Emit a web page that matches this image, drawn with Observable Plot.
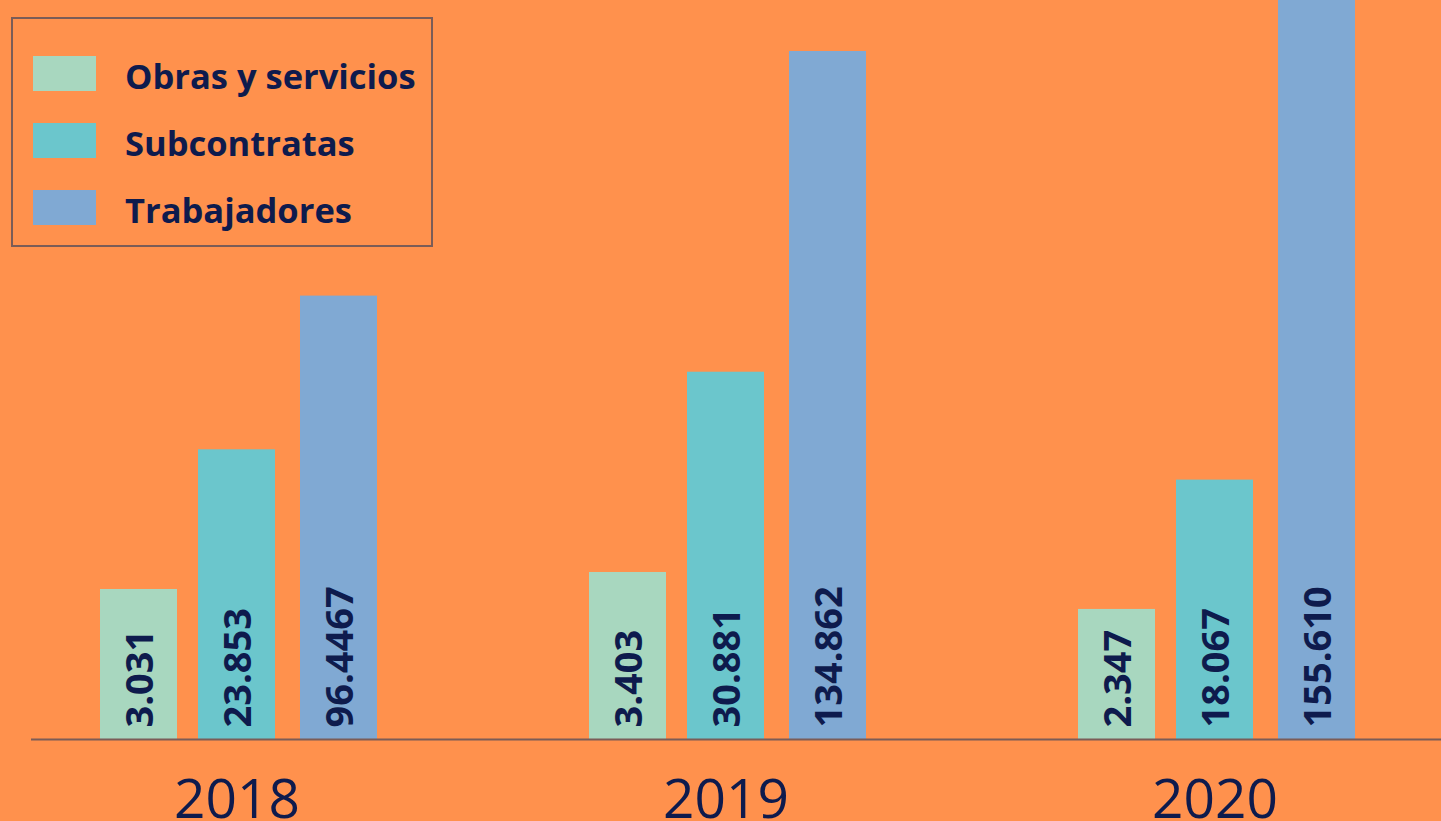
<!DOCTYPE html>
<html>
<head>
<meta charset="utf-8">
<script src="https://cdn.jsdelivr.net/npm/d3@7"></script>
<script src="https://cdn.jsdelivr.net/npm/@observablehq/plot@0.6"></script>
<style>
html, body { margin: 0; padding: 0; background: #FF914D; overflow: hidden; }
#wrap { position: relative; width: 1441px; height: 821px; }
#legend {
  position: absolute; left: 11px; top: 17px; width: 422px; height: 230px;
  box-sizing: border-box; border: 2px solid #7B5C57;
  padding: 37px 0 0 20px; font-family: "Open Sans", sans-serif;
}
.row { display: flex; align-items: center; height: 35px; margin-bottom: 32px; }
.sw { width: 63px; height: 35px; flex: none; }
.lb { margin-left: 29px; font-size: 34.5px; font-weight: 700; color: #0E1B4D; padding-top: 3px; white-space: nowrap; }
</style>
</head>
<body>
<div id="wrap"><div id="chart"></div><div id="legend"></div></div>
<script>
// ---- data ----
const years = ["2018", "2019", "2020"];
const series = ["Obras y servicios", "Subcontratas", "Trabajadores"];
const colors = ["#A8D7BF", "#6BC6CC", "#80A9D3"];

// bar lengths as drawn in the picture (percent of the chart height above the baseline)
const barObras = [20.3, 22.6, 17.6];
const barSubcontratas = [39.2, 49.7, 35.1];
const barTrabajadores = [60.0, 93.1, 107];

// value labels printed on the bars
const labelObras = ["3.031", "3.403", "2.347"];
const labelSubcontratas = ["23.853", "30.881", "18.067"];
const labelTrabajadores = ["96.4467", "134.862", "155.610"];

const heights = [barObras, barSubcontratas, barTrabajadores];
const labels = [labelObras, labelSubcontratas, labelTrabajadores];

const navy = "#0E1B4D";
const lineColor = "#7B5C57";

const rows = [];
years.forEach((yr, i) => {
  series.forEach((s, j) => {
    rows.push({year: yr, series: s, h: heights[j][i], label: labels[j][i]});
  });
});

const offsets = {"Obras y servicios": -98, "Subcontratas": 0, "Trabajadores": 102};
const labelFont = 38;
const labelCenter = Math.round(labelFont * 0.357); // centre rotated digits on the bar

const marks = [];
series.forEach(s => {
  const d = rows.filter(r => r.series === s);
  marks.push(Plot.barY(d, {x: "year", y: "h", fill: "series", dx: offsets[s], clip: true}));
});
marks.push(Plot.ruleY([0], {stroke: lineColor, strokeWidth: 2}));
series.forEach(s => {
  const d = rows.filter(r => r.series === s);
  marks.push(Plot.text(d, {
    x: "year", text: "label", frameAnchor: "bottom", rotate: -90, textAnchor: "start",
    dx: offsets[s] + labelCenter, dy: -12, fontSize: labelFont, fontWeight: 700, fill: navy
  }));
});
marks.push(Plot.text(years, {
  x: d => d, text: d => d, frameAnchor: "bottom", lineAnchor: "top", dy: 39,
  fontSize: 55, fontWeight: 400, fill: navy
}));

const chart = Plot.plot({
  width: 1441,
  height: 821,
  marginTop: 0,
  marginBottom: 82,
  marginLeft: 31,
  marginRight: 0,
  style: {background: "#FF914D", fontFamily: "'Open Sans', sans-serif", overflow: "hidden"},
  x: {domain: years, axis: null, paddingInner: 0.8427, paddingOuter: 0.3616, align: 0.4713},
  y: {domain: [0, 100], axis: null},
  color: {domain: series, range: colors},
  marks
});
document.getElementById("chart").appendChild(chart);

// legend
const legend = d3.select("#legend");
series.forEach((s, j) => {
  const row = legend.append("div").attr("class", "row");
  row.append("div").attr("class", "sw").style("background", colors[j]);
  row.append("div").attr("class", "lb").text(s);
});
</script>
</body>
</html>
